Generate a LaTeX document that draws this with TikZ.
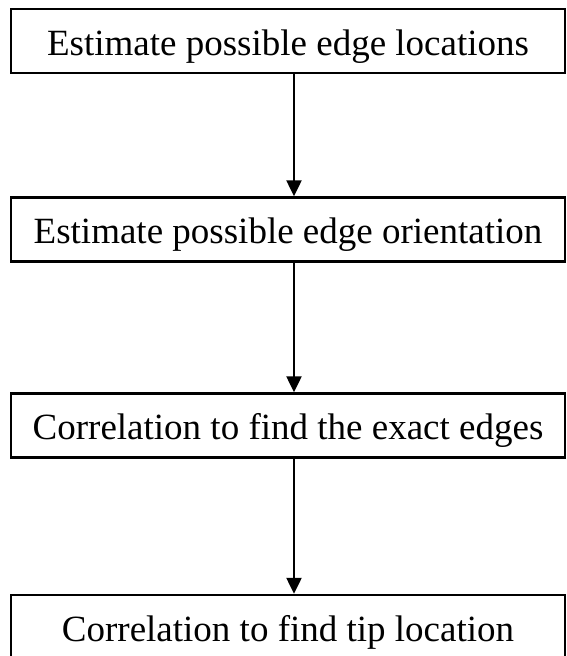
\documentclass[tikz,border=0pt]{standalone}
\usepackage{fontspec}
\setmainfont{Liberation Serif}
\usetikzlibrary{arrows.meta}
\begin{document}
\begin{tikzpicture}[x=1pt,y=-1pt,
  stepbox/.style={draw=black,line width=2.5pt,minimum width=554pt,minimum height=64pt,inner sep=0pt,font=\fontsize{37}{40}\selectfont,text height=32pt,text depth=4pt},
  flow/.style={line width=2.5pt,-{Triangle[width=15pt,length=16pt]}}]
\useasboundingbox (0,0) rectangle (567,656);
\begin{scope}
\clip (0,0) rectangle (567,656);
\node[stepbox] (a) at (288,41) {Estimate possible edge locations};
\node[stepbox] (b) at (288,229.5) {Estimate possible edge orientation};
\node[stepbox] (c) at (288,425.5) {Correlation to find the exact edges};
\node[stepbox] (d) at (288,627) {Correlation to find tip location};
\end{scope}
\draw[flow] ([xshift=6pt]a.south) -- ([xshift=6pt]b.north);
\draw[flow] ([xshift=6pt]b.south) -- ([xshift=6pt]c.north);
\draw[flow] ([xshift=6pt]c.south) -- ([xshift=6pt]d.north);
\end{tikzpicture}
\end{document}
